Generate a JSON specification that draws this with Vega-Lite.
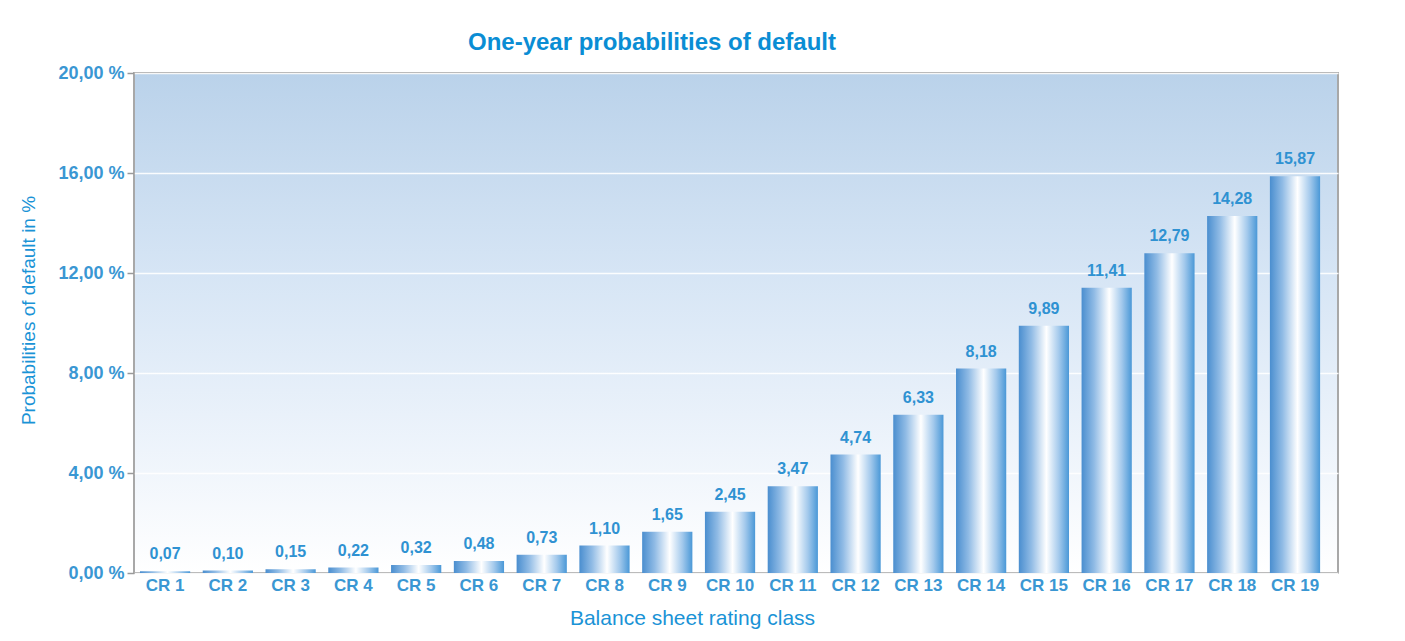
{
  "$schema": "https://vega.github.io/schema/vega-lite/v6.json",
  "autosize": "none",
  "width": 1204,
  "height": 500,
  "padding": {"left": 134, "top": 73, "right": 67, "bottom": 68},
  "background": "white",
  "title": {
    "text": "One-year probabilities of default",
    "font": "Liberation Sans",
    "fontSize": 24,
    "fontWeight": "bold",
    "color": "#0a8dd4",
    "anchor": "middle",
    "dx": -84,
    "offset": 9
  },
  "data": {
    "values": [
      {"cls": "CR 1", "pd": 0.07},
      {"cls": "CR 2", "pd": 0.10},
      {"cls": "CR 3", "pd": 0.15},
      {"cls": "CR 4", "pd": 0.22},
      {"cls": "CR 5", "pd": 0.32},
      {"cls": "CR 6", "pd": 0.48},
      {"cls": "CR 7", "pd": 0.73},
      {"cls": "CR 8", "pd": 1.10},
      {"cls": "CR 9", "pd": 1.65},
      {"cls": "CR 10", "pd": 2.45},
      {"cls": "CR 11", "pd": 3.47},
      {"cls": "CR 12", "pd": 4.74},
      {"cls": "CR 13", "pd": 6.33},
      {"cls": "CR 14", "pd": 8.18},
      {"cls": "CR 15", "pd": 9.89},
      {"cls": "CR 16", "pd": 11.41},
      {"cls": "CR 17", "pd": 12.79},
      {"cls": "CR 18", "pd": 14.28},
      {"cls": "CR 19", "pd": 15.87}
    ]
  },
  "encoding": {
    "x": {
      "field": "cls",
      "type": "nominal",
      "sort": null,
      "scale": {"paddingInner": 0.2, "paddingOuter": 0.19, "align": 0.25},
      "axis": {
        "title": "Balance sheet rating class",
        "labelAngle": 0,
        "ticks": false,
        "domain": false,
        "grid": false,
        "labelFont": "Liberation Sans",
        "labelFontSize": 17,
        "labelFontWeight": "bold",
        "labelColor": "#3a97d3",
        "labelPadding": 4,
        "titleFont": "Liberation Sans",
        "titleFontSize": 21,
        "titleFontWeight": "normal",
        "titleColor": "#1a93d6",
        "titleX": 558,
        "titleY": 45,
        "titleBaseline": "middle",
        "titleAlign": "center"
      }
    },
    "y": {
      "field": "pd",
      "type": "quantitative",
      "scale": {"domain": [0, 20], "nice": false},
      "axis": {
        "title": "Probabilities of default in %",
        "values": [0, 4, 8, 12, 16, 20],
        "labelExpr": "replace(format(datum.value, '.2f'), '.', ',') + ' %'",
        "labelFont": "Liberation Sans",
        "labelFontSize": 18,
        "labelFontWeight": "bold",
        "labelColor": "#3a97d3",
        "labelPadding": 3,
        "tickSize": 7,
        "tickColor": "#9a9a9a",
        "tickWidth": 1.5,
        "domain": false,
        "grid": true,
        "gridColor": "#ffffff",
        "gridWidth": 1.5,
        "gridOpacity": 0.9,
        "titleFont": "Liberation Sans",
        "titleFontSize": 19,
        "titleFontWeight": "normal",
        "titleColor": "#1a93d6",
        "titleX": -106,
        "titleY": 237,
        "titleBaseline": "middle",
        "titleAlign": "center",
        "titleAngle": -90
      }
    }
  },
  "layer": [
    {
      "mark": {
        "type": "bar",
        "color": {
          "gradient": "linear",
          "x1": 0, "x2": 1, "y1": 0, "y2": 0,
          "stops": [
            {"offset": 0, "color": "#4a8ecf"},
            {"offset": 0.25, "color": "#90bbe5"},
            {"offset": 0.55, "color": "#ffffff"},
            {"offset": 0.8, "color": "#a3c9ec"},
            {"offset": 1, "color": "#4a98d7"}
          ]
        }
      }
    },
    {
      "mark": {
        "type": "text",
        "baseline": "bottom",
        "dy": -9,
        "font": "Liberation Sans",
        "fontSize": 16,
        "fontWeight": "bold",
        "color": "#2f92d2"
      },
      "encoding": {
        "text": {"field": "pd", "type": "quantitative", "format": ".2f"}
      }
    }
  ],
  "config": {
    "locale": {"number": {"decimal": ",", "thousands": ".", "grouping": [3], "currency": ["", " €"]}},
    "view": {
      "stroke": "#a8a8a8",
      "strokeWidth": 2,
      "fill": {
        "gradient": "linear",
        "x1": 0, "x2": 0, "y1": 0, "y2": 1,
        "stops": [
          {"offset": 0, "color": "#bad2ea"},
          {"offset": 0.4, "color": "#d6e5f5"},
          {"offset": 0.8, "color": "#f1f6fc"},
          {"offset": 1, "color": "#ffffff"}
        ]
      }
    }
  }
}
